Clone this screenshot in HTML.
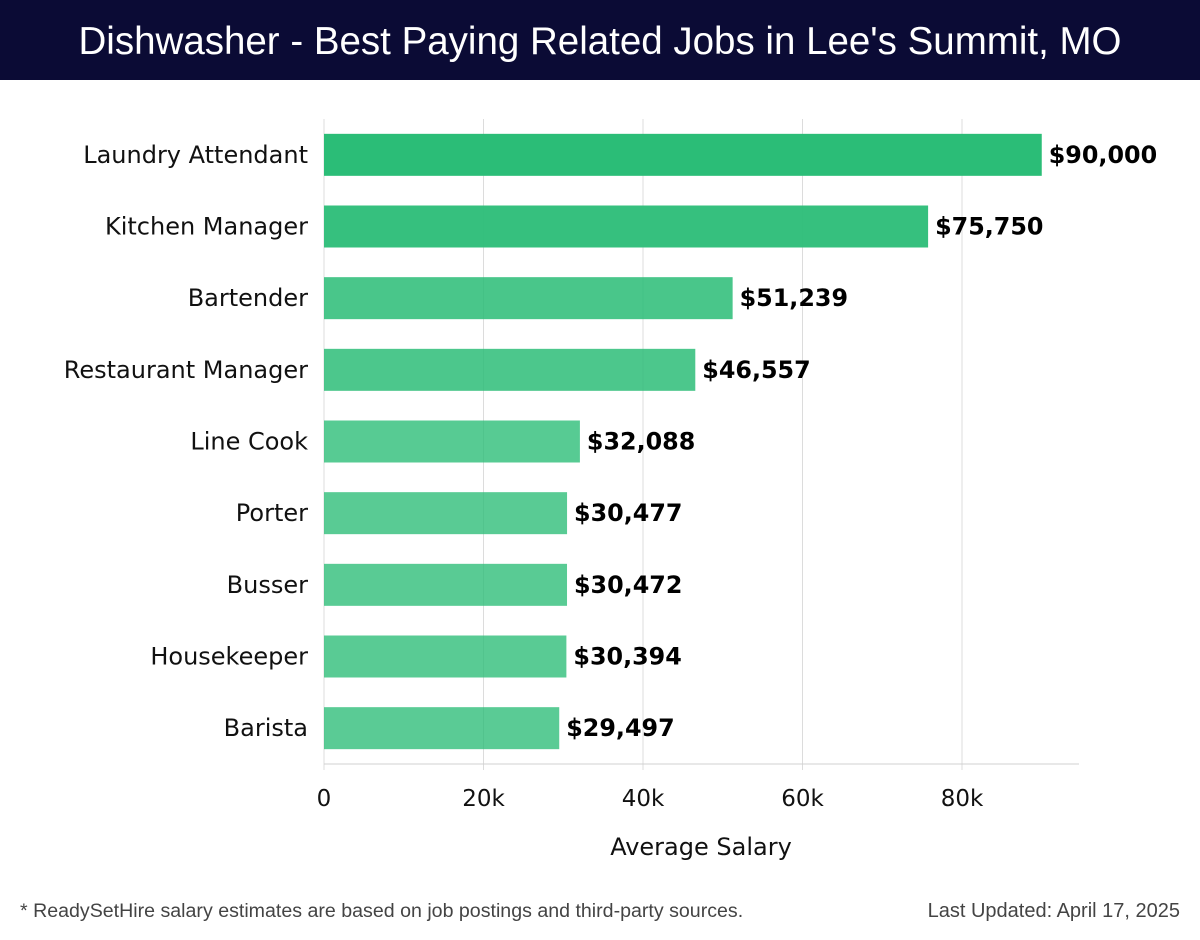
<!DOCTYPE html>
<html><head><meta charset="utf-8"><style>
body{margin:0;background:#fff;width:1200px;height:940px;overflow:hidden;font-family:"DejaVu Sans","Liberation Sans",sans-serif}
#title{position:absolute;left:0;top:0;width:1200px;height:80px;background:#0b0b35;color:#fff;font-size:38.5px;line-height:84px;text-align:center;font-family:"Liberation Sans","DejaVu Sans",sans-serif}
.foot{position:absolute;top:900px;font-size:19px;color:#444;font-family:"Liberation Sans",sans-serif;white-space:nowrap}
</style></head><body>
<div id="title">Dishwasher - Best Paying Related Jobs in Lee's Summit, MO</div>
<svg id="chart" width="1200" height="880" style="position:absolute;left:0;top:0"></svg>
<div class="foot" style="left:20px;font-size:19.6px">* ReadySetHire salary estimates are based on job postings and third-party sources.</div>
<div class="foot" style="right:20px;font-size:20px">Last Updated: April 17, 2025</div>
<script>
const categories=["Laundry Attendant","Kitchen Manager","Bartender","Restaurant Manager","Line Cook","Porter","Busser","Housekeeper","Barista"];
const salaries=[90000,75750,51239,46557,32088,30477,30472,30394,29497];
const tickValues=[0,20000,40000,60000,80000];
const tickLabels=["0","20k","40k","60k","80k"];
const NS="http://www.w3.org/2000/svg";
const svg=document.getElementById('chart');
const x0=324,pxPer=638/80000,top0=119,bottom=764,xEnd=1079;
const band=(bottom-top0)/categories.length,barH=42;
const xs=v=>x0+v*pxPer;
const yc=i=>top0+band*(i+0.5);
function mk(t,a){const e=document.createElementNS(NS,t);for(const k in a)e.setAttribute(k,a[k]);svg.appendChild(e);return e;}
tickValues.forEach((v,i)=>{
 const g=mk('line',{x1:xs(v),x2:xs(v),y1:top0,y2:bottom+6,stroke:'#dcdcdc','stroke-width':1});
 
 
 const t=mk('text',{x:xs(v),y:806,'text-anchor':'middle','font-size':23,fill:'#111'});
 t.textContent=tickLabels[i];
 
 
});
const ax=mk('line',{x1:x0,x2:xEnd,y1:bottom,y2:bottom,stroke:'#d0d0d0','stroke-width':1});


const max=Math.max(...salaries);
categories.forEach((c,i)=>{
 const v=salaries[i];
 const op=0.78+0.22*((v-29000)/(max-29000));
 const r=mk('rect',{x:x0,y:yc(i)-barH/2,width:xs(v)-x0,height:barH,fill:'#2bbd77','fill-opacity':op.toFixed(3)});
 
 
 const l=mk('text',{x:308,y:yc(i)+8,'text-anchor':'end','font-size':24,fill:'#111'});
 l.textContent=c;
 
 
 const vl=mk('text',{x:xs(v)+7,y:yc(i)+8,'font-size':23.8,'font-weight':'bold',fill:'#000'});
 vl.textContent='$'+v.toLocaleString('en-US');
 
 
});
const at=mk('text',{x:701,y:855,'text-anchor':'middle','font-size':24,fill:'#111'});
at.textContent='Average Salary';


</script>
</body></html>
